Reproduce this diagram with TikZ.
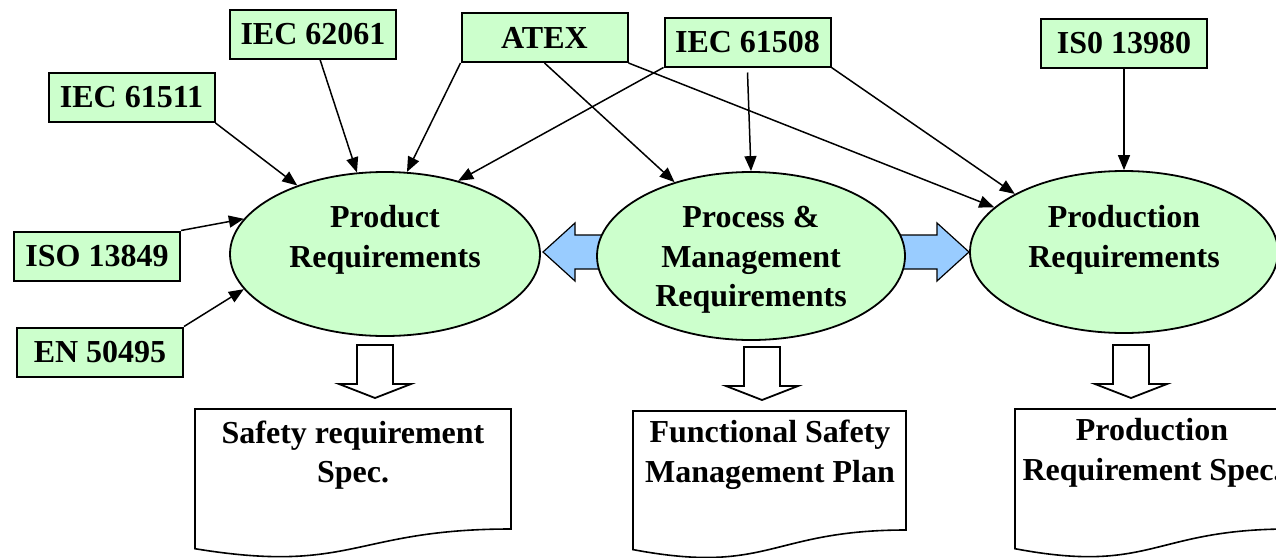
\documentclass[tikz,border=0pt]{standalone}
\usepackage{fontspec}
\setmainfont{Liberation Serif}
\usetikzlibrary{shapes.geometric,arrows.meta,calc}
\definecolor{boxgreen}{HTML}{CCFFCC}
\definecolor{arrblue}{HTML}{99CCFF}
\tikzset{
  pics/downarr/.style={code={\draw[hollowarr] (-18,0) -- (18,0) -- (18,39) -- (36,39) -- (0,53) -- (-36,39) -- (-18,39) -- cycle;}}
}
\begin{document}
\begin{tikzpicture}[x=1pt,y=-1pt,
  every node/.style={font=\fontsize{32}{39.5}\selectfont\bfseries},
  stdbox/.style={draw=black, line width=2pt, fill=boxgreen, minimum width=166pt, minimum height=49pt, inner sep=0pt},
  reqell/.style={ellipse, draw=black, line width=1.8pt, fill=boxgreen, inner sep=0pt},
  conn/.style={line width=1.5pt, -{Triangle[length=15pt,width=12pt]}},
  blockarr/.style={draw=black, line width=1.2pt, fill=arrblue},
  hollowarr/.style={draw=black, line width=1.8pt, fill=white},
  docshape/.style={draw=black, line width=1.6pt, fill=white},
  txt/.style={align=center, inner sep=0pt}
]
\useasboundingbox (0,0) rectangle (1276,557);
\clip (0,0) rectangle (1276,557);
\fill[white] (0,0) rectangle (1276,557);

% standard boxes
\node[stdbox] (b61511) at (131.5,97.5) {IEC 61511};
\node[stdbox] (b62061) at (313,34) {IEC 62061};
\node[stdbox] (atex) at (544.5,37.5) {ATEX};
\node[stdbox] (b61508) at (747.5,42) {IEC 61508};
\node[stdbox] (b13980) at (1124,43.5) {IS0 13980};
\node[stdbox] (b13849) at (97,256) {ISO 13849};
\node[stdbox] (b50495) at (100,352) {EN 50495};

% blue block arrows
\draw[blockarr] (615,235) -- (575,235) -- (575,223) -- (543,252) -- (575,281) -- (575,269) -- (615,269) -- cycle;
\draw[blockarr] (885,235) -- (937,235) -- (937,223) -- (969,252) -- (937,281) -- (937,269) -- (885,269) -- cycle;

% requirement ellipses
\node[reqell, minimum width=310pt, minimum height=164pt] (prod) at (385,254) {};
\node[reqell, minimum width=308pt, minimum height=168pt] (proc) at (751,256) {};
\node[reqell, minimum width=308pt, minimum height=162pt] (prodn) at (1124,252) {};
\node[txt] (prodtxt) at (385,240) {Product\\Requirements};
\node[txt] (proctxt) at (751,260) {Process \&\\Management\\Requirements};
\node[txt] (prodntxt) at (1124,240) {Production\\Requirements};

% connectors
\draw[conn] (b61511.south east) -- (prod.142.6);
\draw[conn] ([xshift=7pt]b62061.south) -- (prod.109.7);
\draw[conn] (atex.south west) -- (prod.75.4);
\draw[conn] (b61508.south west) -- (prod.45.7);
\draw[conn] (atex.south) -- (proc.136);
\draw[conn] ([yshift=-5pt]b61508.south) -- (proc.90);
\draw[conn] (atex.south east) -- (prodn.161.6);
\draw[conn] (b61508.south east) -- (prodn.152.6);
\draw[conn] (b13980.south) -- (prodn.90);
\draw[conn] (b13849.north east) -- (prod.166);
\draw[conn] (b50495.north east) -- (prod.194.2);

% hollow down arrows
\pic at (375,345) {downarr};
\pic at (762,347) {downarr};
\pic at (1131,345) {downarr};

% documents
\draw[docshape] (195,409) -- (511,409) -- (511,529) .. controls (353,529) and (353,574.6) .. (195,548.7) -- cycle;
\draw[docshape] (633,411) -- (906,411) -- (906,530) .. controls (769.5,530) and (769.5,575.3) .. (633,549.6) -- cycle;
\draw[docshape] (1015,409) -- (1289,409) -- (1289,529) .. controls (1152,529) and (1152,574.6) .. (1015,548.7) -- cycle;
\node[txt] (srs) at (353,455) {Safety requirement\\Spec.};
\node[txt] (fsmp) at (770,455) {Functional Safety\\Management Plan};
\node[txt] (prs) at (1152,453) {Production\\Requirement Spec.};
\end{tikzpicture}
\end{document}
